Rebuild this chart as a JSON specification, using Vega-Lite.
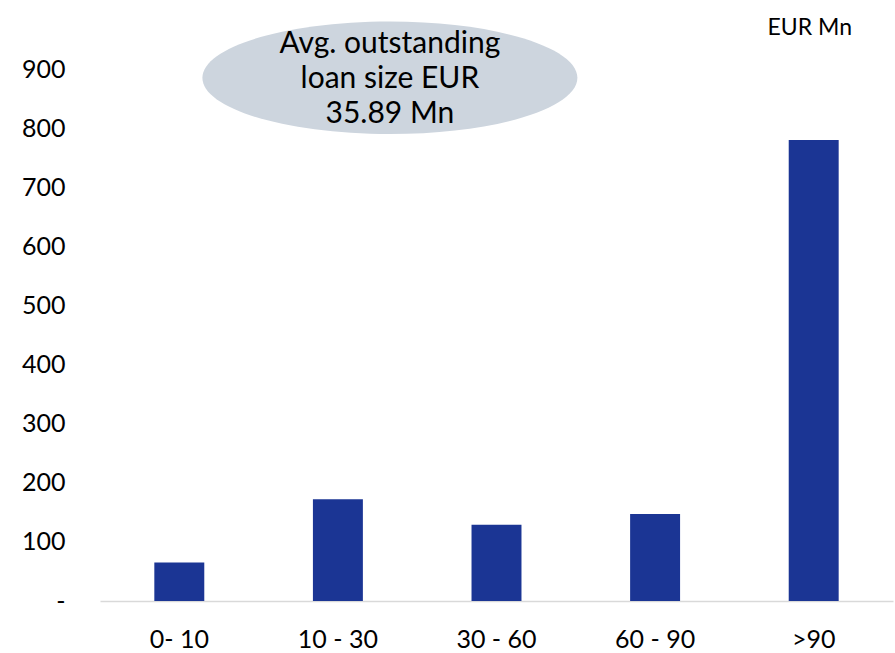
{
  "$schema": "https://vega.github.io/schema/vega-lite/v6.json",
  "autosize": {"type": "none"},
  "padding": {"left": 100, "top": 69, "right": 2, "bottom": 52},
  "width": 793,
  "height": 532,
  "background": "white",
  "config": {
    "view": {"stroke": null},
    "font": "Lato"
  },
  "datasets": {
    "bars": [
      {"range": "0- 10", "amount": 65},
      {"range": "10 - 30", "amount": 172},
      {"range": "30 - 60", "amount": 129},
      {"range": "60 - 90", "amount": 147},
      {"range": ">90", "amount": 780}
    ],
    "note": [
      {"range": "10 - 30", "amount": 885, "text": ["Avg. outstanding", "loan size EUR", "35.89 Mn"]}
    ],
    "unit": [
      {"range": ">90", "amount": 970, "text": "EUR Mn"}
    ]
  },
  "layer": [
    {
      "data": {"name": "bars"},
      "mark": {"type": "bar", "color": "#1B3594"},
      "encoding": {
        "x": {
          "field": "range", "type": "nominal", "sort": null,
          "scale": {"paddingInner": 0.685, "paddingOuter": 0.3425},
          "axis": {
            "title": null, "labelAngle": 0, "labelFontSize": 25, "labelColor": "#000000",
            "labelPadding": 26, "ticks": false, "domainColor": "#D9D9D9", "domainWidth": 1.5
          }
        },
        "y": {
          "field": "amount", "type": "quantitative",
          "scale": {"domain": [0, 900], "nice": false},
          "axis": {
            "title": null, "values": [0, 100, 200, 300, 400, 500, 600, 700, 800, 900],
            "labelExpr": "datum.value == 0 ? '-' : datum.label",
            "labelFontSize": 25, "labelColor": "#000000", "labelPadding": 35,
            "ticks": false, "domain": false, "grid": false
          }
        }
      }
    },
    {
      "data": {"name": "note"},
      "mark": {
        "type": "point", "filled": true, "color": "#CDD5DE", "opacity": 1, "size": 140625,
        "shape": "M -1 0 A 1 0.3 0 1 0 1 0 A 1 0.3 0 1 0 -1 0 Z", "xOffset": 52
      },
      "encoding": {
        "x": {"field": "range", "type": "nominal", "sort": null},
        "y": {"field": "amount", "type": "quantitative"}
      }
    },
    {
      "data": {"name": "note"},
      "mark": {
        "type": "text", "fontSize": 30, "color": "#000000", "lineHeight": 35,
        "baseline": "middle", "align": "center", "dx": 52, "dy": -34
      },
      "encoding": {
        "x": {"field": "range", "type": "nominal", "sort": null},
        "y": {"field": "amount", "type": "quantitative"},
        "text": {"field": "text"}
      }
    },
    {
      "data": {"name": "unit"},
      "mark": {"type": "text", "fontSize": 23, "color": "#000000", "baseline": "middle", "align": "center", "dx": -4},
      "encoding": {
        "x": {"field": "range", "type": "nominal", "sort": null},
        "y": {"field": "amount", "type": "quantitative"},
        "text": {"field": "text"}
      }
    }
  ]
}
